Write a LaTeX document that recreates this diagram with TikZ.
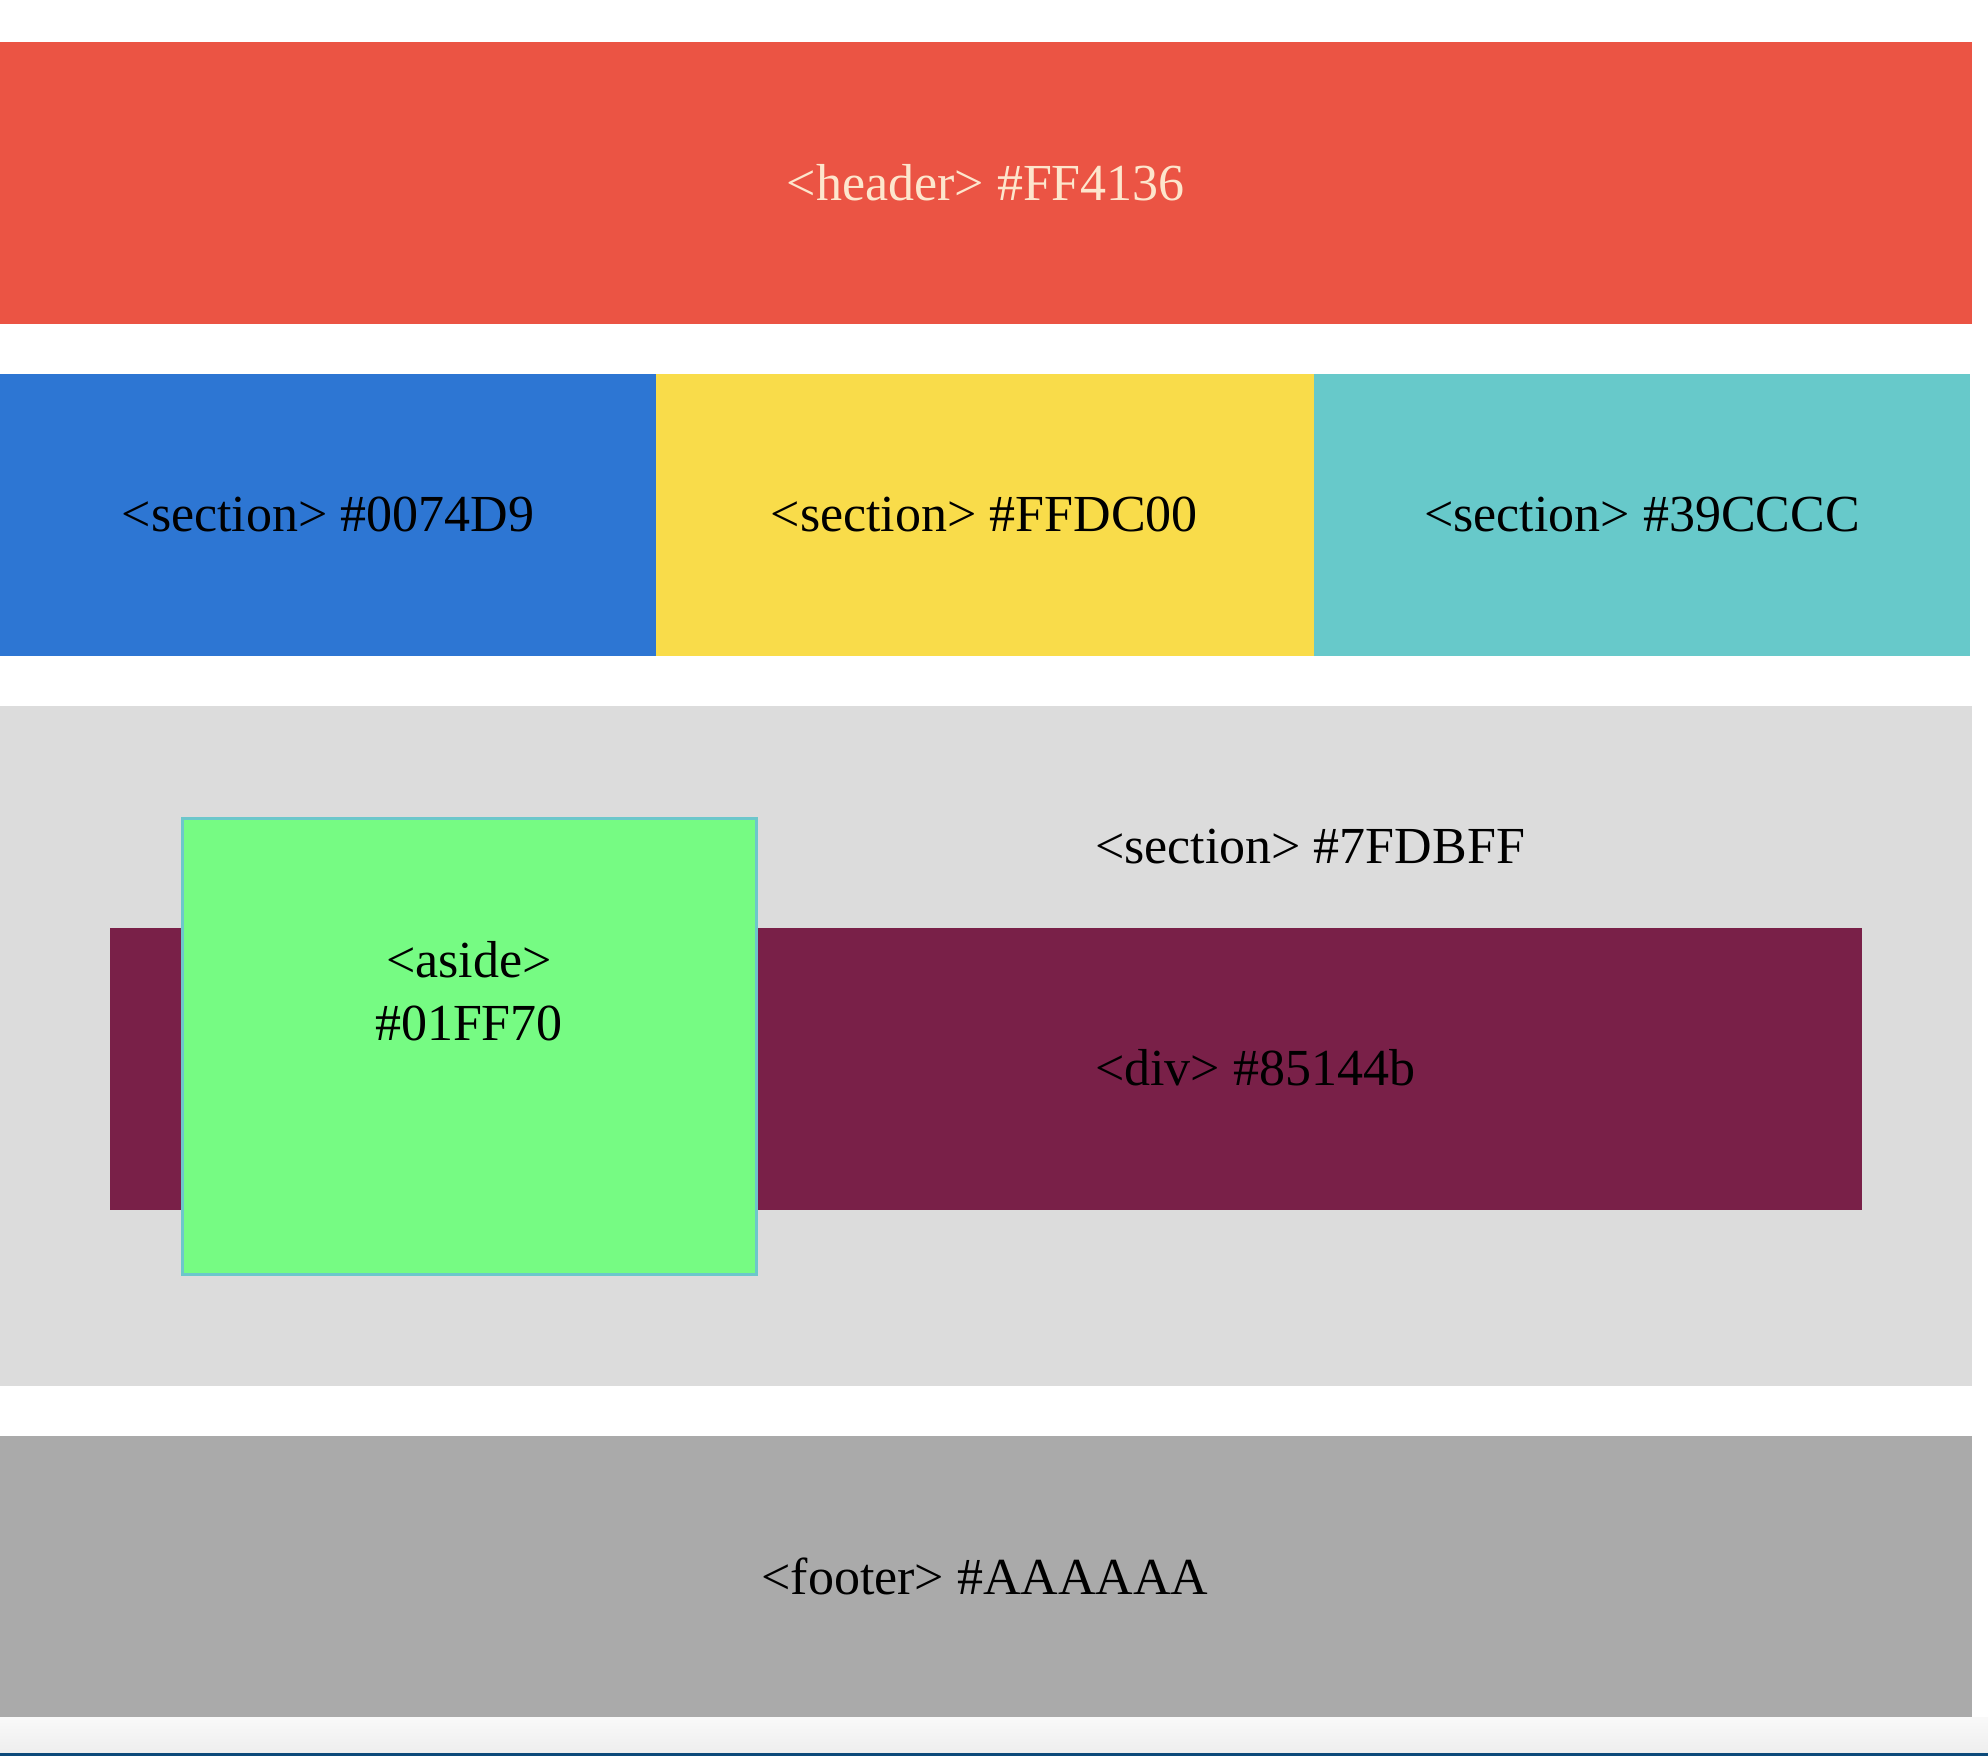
\documentclass[tikz,border=0pt]{standalone}
\usepackage{fontspec}
\setmainfont{Liberation Serif}
\definecolor{hdrc}{HTML}{EB5444}
\definecolor{hdrtxt}{HTML}{FDE6CD}
\definecolor{bluec}{HTML}{2D76D3}
\definecolor{yellowc}{HTML}{F9DC4A}
\definecolor{tealc}{HTML}{67C9CA}
\definecolor{grayc}{HTML}{DCDCDC}
\definecolor{divc}{HTML}{792048}
\definecolor{greenc}{HTML}{76FB83}
\definecolor{asideb}{HTML}{6CC7CB}
\definecolor{footc}{HTML}{AAAAAA}
\definecolor{barTop}{HTML}{F9F9F9}
\definecolor{barBot}{HTML}{EEEEEE}
\definecolor{barLine}{HTML}{0C4A7A}
\begin{document}
\begin{tikzpicture}[x=1pt,y=-1pt,
  box/.style={inner sep=0pt, outer sep=0pt, anchor=north west, draw=none},
  lbl/.style={font=\fontsize{52}{62}\selectfont, inner sep=0pt, outer sep=0pt, anchor=base, text=black}]
\useasboundingbox (0,0) rectangle (1988,1756);
\fill[white] (0,0) rectangle (1988,1756);
% header
\node[box, fill=hdrc, minimum width=1972pt, minimum height=282.4pt] (header) at (0,41.8) {};
% three sections
\node[box, fill=bluec, minimum width=655.8pt, minimum height=281.7pt] (secblue) at (0,374) {};
\node[box, fill=yellowc, minimum width=658pt, minimum height=281.7pt] (secyellow) at (655.8,374) {};
\node[box, fill=tealc, minimum width=656.2pt, minimum height=281.7pt] (secteal) at (1313.8,374) {};
% gray section
\node[box, fill=grayc, minimum width=1972pt, minimum height=679.7pt] (secgray) at (0,706) {};
% div
\node[box, fill=divc, minimum width=1752pt, minimum height=281.5pt] (div) at (110,928) {};
% aside
\node[box, fill=greenc, draw=asideb, line width=3pt, minimum width=573.5pt, minimum height=455.5pt] (aside) at (182.5,818.5) {};
% footer
\node[box, fill=footc, minimum width=1972pt, minimum height=281.7pt] (footer) at (0,1436) {};
% bottom bar
\shade[top color=barTop, bottom color=barBot] (0,1717.7) rectangle (1988,1753);
\fill[barLine] (0,1753) rectangle (1988,1756);
% labels
\node[lbl, text=hdrtxt] (lheader) at (985.8,200) {<header> \#FF4136};
\node[lbl] (lblue) at (328,531.7) {<section> \#0074D9};
\node[lbl] (lyellow) at (984.3,531.7) {<section> \#FFDC00};
\node[lbl] (lteal) at (1642,531.7) {<section> \#39CCCC};
\node[lbl, anchor=base west] (lgray) at (1095,863) {<section> \#7FDBFF};
\node[lbl, anchor=base west] (ldiv) at (1095,1085) {<div> \#85144b};
\node[lbl] (laside1) at (469,977.7) {<aside>};
\node[lbl] (laside2) at (469,1040.6) {\#01FF70};
\node[lbl] (lfooter) at (985,1594) {<footer> \#AAAAAA};
\end{tikzpicture}
\end{document}
